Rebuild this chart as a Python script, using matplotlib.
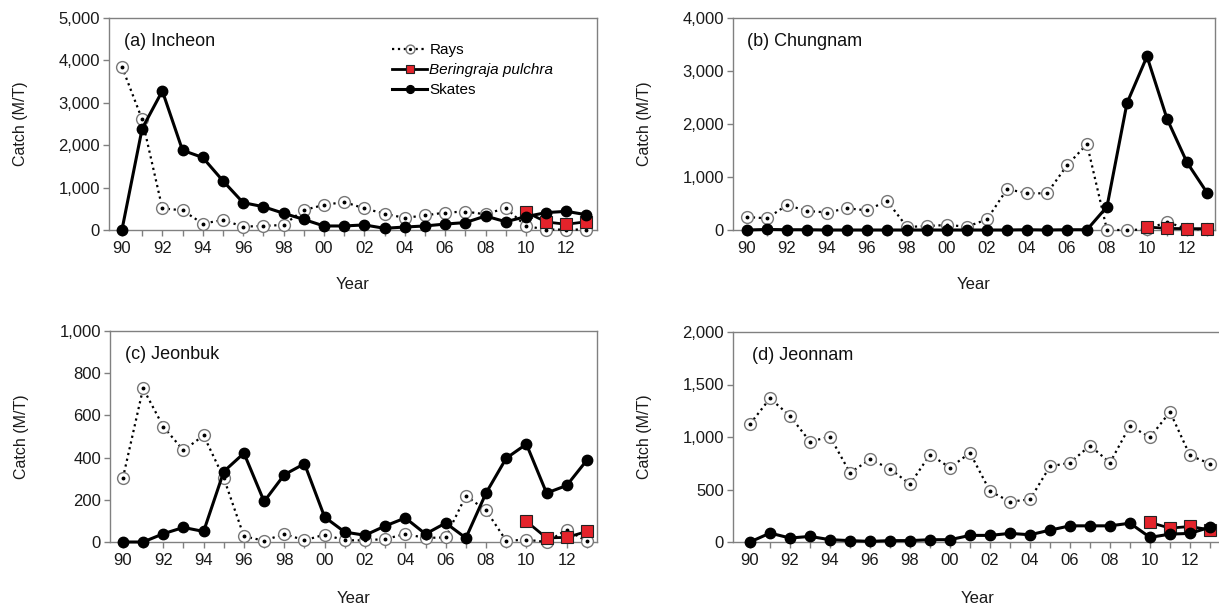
import numpy as np
import matplotlib
matplotlib.use('Agg')
from matplotlib import pyplot as plt
from matplotlib.ticker import FuncFormatter, MultipleLocator
from matplotlib.legend_handler import HandlerTuple

plt.rcParams['font.family'] = ['Liberation Sans', 'DejaVu Sans']

years = list(range(1990, 2014))
bp_years = [2010, 2011, 2012, 2013]

# (a) Incheon
incheon_rays = [3850, 2610, 510, 465, 150, 235, 80, 95, 120, 470, 590, 660,
                510, 385, 285, 345, 410, 435, 370, 520, 95, 10, 10, 10]
incheon_skates = [0, 2390, 3280, 1880, 1710, 1160, 645, 550, 395, 250, 95, 95,
                  120, 40, 70, 95, 140, 175, 330, 195, 315, 410, 440, 360]
incheon_bp = [425, 190, 135, 195]

# (b) Chungnam
chungnam_rays = [245, 220, 470, 360, 330, 410, 370, 550, 57, 75, 95, 63,
                 200, 770, 695, 690, 1220, 1620, 0, 0, 10, 155, 15, 15]
chungnam_skates = [0, 10, 5, 5, 0, 0, 0, 0, 0, 0, 0, 0,
                   0, 0, 5, 0, 5, 5, 440, 2395, 3275, 2100, 1275, 705]
chungnam_bp = [57, 30, 25, 25]

# (c) Jeonbuk
jeonbuk_rays = [303, 728, 547, 434, 505, 303, 27, 6, 38, 8, 35, 8,
                8, 14, 38, 19, 22, 219, 150, 6, 11, 0, 58, 3]
jeonbuk_skates = [0, 0, 39, 69, 50, 334, 421, 192, 319, 371, 118, 47,
                  32, 76, 114, 38, 90, 19, 232, 397, 464, 232, 268, 388]
jeonbuk_bp = [98, 19, 22, 50]

# (d) Jeonnam
jeonnam_rays = [1123, 1368, 1201, 956, 1003, 660, 786, 698, 550, 833, 708, 849,
                484, 384, 406, 720, 755, 918, 755, 1107, 997, 1239, 824, 745]
jeonnam_skates = [0, 85, 38, 53, 22, 13, 6, 13, 13, 22, 22, 63,
                  63, 82, 69, 113, 154, 154, 154, 179, 44, 75, 82, 141]
jeonnam_bp = [186, 132, 148, 116]

panels = [
    ('(a) Incheon', incheon_rays, incheon_skates, incheon_bp, 5000, 1000,
     [109, 18, 597, 230], (1989.36, 2013.52)),
    ('(b) Chungnam', chungnam_rays, chungnam_skates, chungnam_bp, 4000, 1000,
     [733, 18, 1215, 230], (1989.3, 2013.4)),
    ('(c) Jeonbuk', jeonbuk_rays, jeonbuk_skates, jeonbuk_bp, 1000, 200,
     [110, 331, 597, 542], (1989.36, 2013.5)),
    ('(d) Jeonnam', jeonnam_rays, jeonnam_skates, jeonnam_bp, 2000, 500,
     [733, 332, 1222, 542], (1989.15, 2013.6)),
]

W, H = 1219, 610
fig = plt.figure(figsize=(W / 100, H / 100), dpi=100)

spine_col = '#808080'
red = '#e4232b'
txt = '#1a1a1a'

for i, (title, rays, skates, bp, ymax, ystep, box, xl) in enumerate(panels):
    l, t, r, b = box
    ax = fig.add_axes([l / W, (H - b) / H, (r - l) / W, (b - t) / H])

    h_rays, = ax.plot(years, rays, linestyle=':', color='black', lw=1.6,
                      marker='o', ms=8.5, mfc='white', mec='#777777', mew=1.0,
                      zorder=3, clip_on=False)
    h_dot, = ax.plot(years, rays, linestyle='none', marker='o', ms=1.8,
                     color='black', zorder=3.1, clip_on=False)
    h_bp, = ax.plot(bp_years, bp, color='black', lw=2, marker='s', ms=8.5,
                    mfc=red, mec='#222222', mew=0.8, zorder=4, clip_on=False)
    h_sk, = ax.plot(years, skates, color='black', lw=2.2, marker='o', ms=7.5,
                    mfc='black', mec='black', zorder=5, clip_on=False)

    ax.set_xlim(*xl)
    ax.set_ylim(0, ymax)
    ax.xaxis.set_major_locator(MultipleLocator(2))
    ax.xaxis.set_minor_locator(MultipleLocator(1))
    ax.xaxis.set_major_formatter(FuncFormatter(lambda v, p: '%02d' % (int(round(v)) % 100)))
    ax.yaxis.set_major_locator(MultipleLocator(ystep))
    ax.yaxis.set_major_formatter(FuncFormatter(lambda v, p: '{:,.0f}'.format(v)))

    for s in ax.spines.values():
        s.set_color(spine_col)
        s.set_linewidth(1.0)
    ax.tick_params(axis='x', which='both', direction='out', length=4, width=1,
                   color=spine_col, labelsize=12, pad=4, labelcolor=txt)
    ax.tick_params(axis='y', direction='out', length=4.5, width=1,
                   color=spine_col, labelsize=12, pad=2, labelcolor=txt)

    ax.set_xlabel('Year', fontsize=12, color=txt)
    ax.set_ylabel('Catch (M/T)', fontsize=11.5, color=txt)
    ax.yaxis.set_label_coords((28 - 109) / (r - l), 0.5)
    top_row = i < 2
    ax.xaxis.set_label_coords(0.5, -(277 - 230) / 212 if top_row else -(591 - 542) / 211)

    ax.text(0.03 if i != 3 else 0.039, 0.89, title, transform=ax.transAxes,
            fontsize=13, va='center', ha='left', color='#111111')

    if i == 0:
        ax.legend([(h_rays, h_dot), h_bp, h_sk],
                  ['Rays', 'Beringraja pulchra', 'Skates'],
                  handler_map={tuple: HandlerTuple(ndivide=1)},
                  frameon=False, loc='upper left',
                  bbox_to_anchor=((392 - l) / (r - l), (b - 43) / (b - t)),
                  borderaxespad=0, borderpad=0, handlelength=2.3,
                  handletextpad=0.15, labelspacing=0.4, fontsize=11,
                  markerscale=0.75)
        leg = ax.get_legend()
        leg.get_texts()[1].set_style('italic')

fig.savefig('out.png', dpi=100)
